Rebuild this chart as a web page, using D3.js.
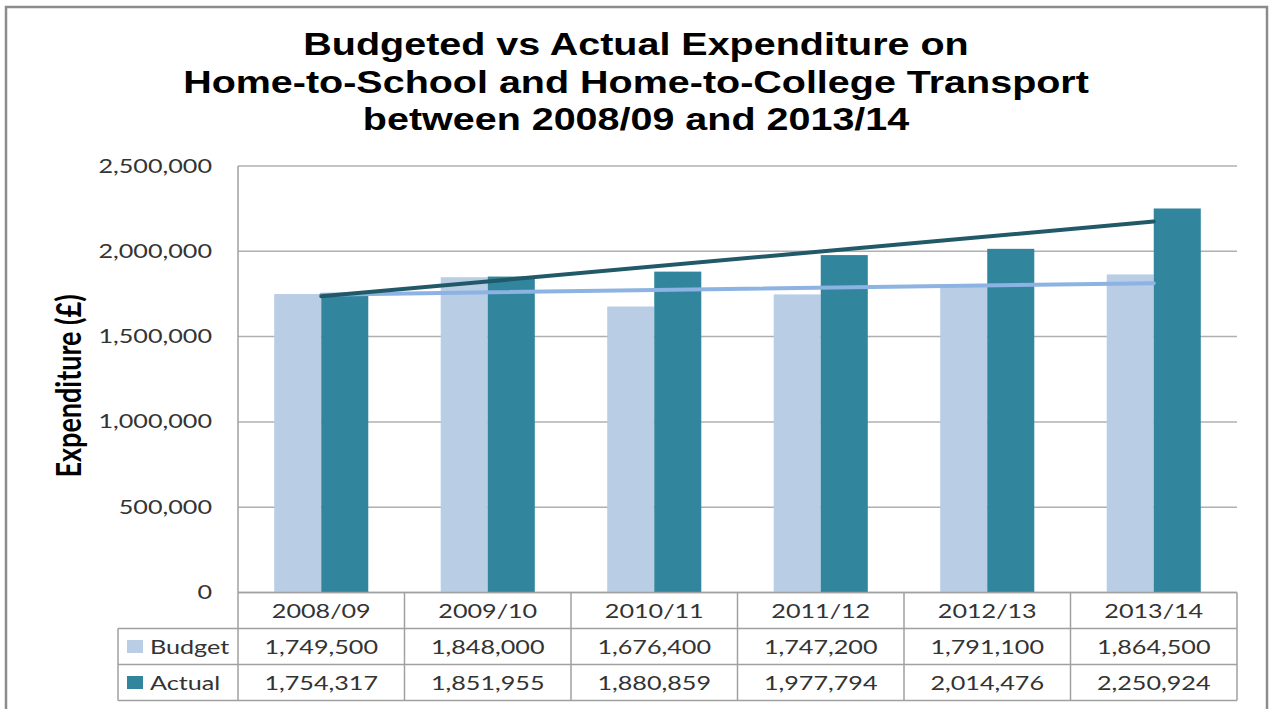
<!DOCTYPE html>
<html>
<head>
<meta charset="utf-8">
<script src="https://cdn.jsdelivr.net/npm/d3@7"></script>
<style>
  html, body { margin: 0; padding: 0; background: #fff; }
  svg { display: block; }
</style>
</head>
<body>
<svg id="chart" width="1269" height="709"></svg>
<script>
// ---- data ----
const categories = ["2008/09", "2009/10", "2010/11", "2011/12", "2012/13", "2013/14"];
const seriesNames = ["Budget", "Actual"];
const budgetValues = [1749500, 1848000, 1676400, 1747200, 1791100, 1864500];
const actualValues = [1754317, 1851955, 1880859, 1977794, 2014476, 2250924];
const yTicks = [0, 500000, 1000000, 1500000, 2000000, 2500000];
const titleLines = [
  "Budgeted vs Actual Expenditure on",
  "Home-to-School and Home-to-College Transport",
  "between 2008/09 and 2013/14"
];
const yAxisTitle = "Expenditure (£)";

// ---- styles ----
const colors = { Budget: "#b9cde5", Actual: "#31859c" };
const trendColors = { Budget: "#8db3e2", Actual: "#215968" };
const gridColor = "#b0b0b0";
const tableLine = "#a0a0a0";
const textColor = "#333333";
const bodyFont = "Lato, 'Open Sans', sans-serif";
const titleFont = "'Liberation Sans', Arial, sans-serif";
const stretchBody = 1.36;
const stretchTitle = 1.295;

const svg = d3.select("#chart");
const values = { Budget: budgetValues, Actual: actualValues };

// layout
const plot = { left: 238, right: 1237, top: 166, bottom: 592.5 };
const rowH = 36;
const tableTop = plot.bottom;
const tableLeft = 118;

// outer frame
svg.append("rect").attr("x", 6).attr("y", 7).attr("width", 1261).attr("height", 760)
  .attr("fill", "none").attr("stroke", "#8c8c8c").attr("stroke-width", 2.5);

function stretchedText(g, x, y, txt, opts) {
  const t = g.append("text")
    .attr("transform", `translate(${x},${y}) scale(${opts.sx || stretchBody},1)` + (opts.rotate ? ` rotate(${opts.rotate})` : ""))
    .attr("text-anchor", opts.anchor || "middle")
    .attr("font-family", opts.font || bodyFont)
    .attr("font-size", opts.size || 18.5)
    .attr("font-weight", opts.weight || "normal")
    .attr("fill", opts.fill || textColor)
    .text(txt);
  return t;
}

// title
titleLines.forEach((line, i) => {
  stretchedText(svg, 636, 55 + i * 37.5, line, { sx: stretchTitle, font: titleFont, size: 30.5, weight: "bold", fill: "#000" });
});

// scales
const x0 = d3.scaleBand().domain(categories).range([plot.left, plot.right]).paddingInner(0).paddingOuter(0);
const bw = x0.bandwidth();
const x1 = d3.scaleBand().domain(seriesNames).range([0, bw]).paddingInner(0).paddingOuter(0.77);
const y = d3.scaleLinear().domain([0, 2500000]).range([plot.bottom, plot.top]);

// gridlines
const grid = svg.append("g");
grid.selectAll("line").data(yTicks).join("line")
  .attr("x1", plot.left).attr("x2", plot.right)
  .attr("y1", d => y(d)).attr("y2", d => y(d))
  .attr("stroke", gridColor).attr("stroke-width", 1.5);

// y axis line
svg.append("line").attr("x1", plot.left).attr("x2", plot.left)
  .attr("y1", plot.top).attr("y2", tableTop + 3 * rowH)
  .attr("stroke", tableLine).attr("stroke-width", 1.5);

// y tick labels
const fmt = d3.format(",");
yTicks.forEach(t => {
  stretchedText(svg, 212, y(t) + 6.5, fmt(t), { anchor: "end" });
});

// y axis title
stretchedText(svg, 81, 386, yAxisTitle, { sx: 1.3, rotate: -90, size: 27, weight: "bold", fill: "#000", font: "Lato, 'Open Sans', sans-serif" });

// bars
const groups = svg.append("g").selectAll("g").data(categories).join("g")
  .attr("transform", d => `translate(${x0(d)},0)`);
groups.selectAll("rect").data((d, i) => seriesNames.map(s => ({ s, v: values[s][i] }))).join("rect")
  .attr("x", d => x1(d.s)).attr("width", x1.bandwidth())
  .attr("y", d => y(d.v)).attr("height", d => y(0) - y(d.v))
  .attr("fill", d => colors[d.s]);

// linear trendlines (least squares on the series)
function trend(vals) {
  const n = vals.length;
  const mx = d3.mean(vals, (v, i) => i);
  const my = d3.mean(vals);
  const sxy = d3.sum(vals, (v, i) => (i - mx) * (v - my));
  const sxx = d3.sum(vals, (v, i) => (i - mx) * (i - mx));
  const b = sxy / sxx, a = my - b * mx;
  return [0, n - 1].map(i => ({ i, v: a + b * i }));
}
const line = d3.line().x(d => x0(categories[d.i]) + bw / 2).y(d => y(d.v));
["Budget", "Actual"].forEach(s => {
  svg.append("path").attr("d", line(trend(values[s])))
    .attr("fill", "none").attr("stroke", trendColors[s]).attr("stroke-width", 4)
    .attr("stroke-linecap", "round");
});

// data table
const table = svg.append("g");
table.append("line").attr("x1", plot.left).attr("x2", plot.right).attr("y1", tableTop).attr("y2", tableTop)
  .attr("stroke", tableLine).attr("stroke-width", 1.5);
[1, 2, 3].forEach(r => {
  table.append("line").attr("x1", tableLeft).attr("x2", plot.right)
    .attr("y1", tableTop + r * rowH).attr("y2", tableTop + r * rowH)
    .attr("stroke", tableLine).attr("stroke-width", 1.5);
});
table.append("line").attr("x1", tableLeft).attr("x2", tableLeft)
  .attr("y1", tableTop + rowH).attr("y2", tableTop + 3 * rowH)
  .attr("stroke", tableLine).attr("stroke-width", 1.5);
categories.forEach(c => {
  const xr = x0(c) + bw;
  table.append("line").attr("x1", xr).attr("x2", xr)
    .attr("y1", tableTop).attr("y2", tableTop + 3 * rowH)
    .attr("stroke", tableLine).attr("stroke-width", 1.5);
});
categories.forEach(c => {
  stretchedText(table, x0(c) + bw / 2, tableTop + rowH / 2 + 7, c, {});
});
seriesNames.forEach((s, r) => {
  const cy = tableTop + (r + 1.5) * rowH;
  table.append("rect").attr("x", 127).attr("y", cy - 6.5).attr("width", 16).attr("height", 13).attr("fill", colors[s]);
  stretchedText(table, 150, cy + 7, s, { anchor: "start" });
  values[s].forEach((v, i) => {
    stretchedText(table, x0(categories[i]) + bw / 2, cy + 7, fmt(v), {});
  });
});
</script>
</body>
</html>
